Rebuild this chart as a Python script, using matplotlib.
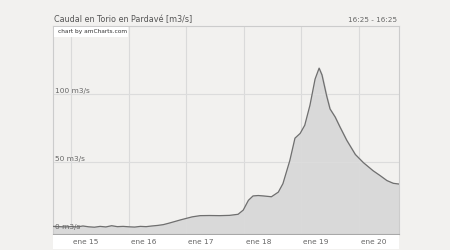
# Caudal en Torio en Pardavé - area chart, amCharts style

import matplotlib.pyplot as plt
from matplotlib.patches import Rectangle

# days counted from "ene 15" (0.0)
days = [-0.32, -0.2, -0.1, 0.0, 0.1, 0.2, 0.3, 0.4, 0.5, 0.6, 0.7, 0.8, 0.9, 1.0,
        1.1, 1.2, 1.3, 1.4, 1.5, 1.6, 1.7, 1.8, 1.9, 2.0, 2.1, 2.24, 2.4, 2.58,
        2.75, 2.9, 2.99, 3.08, 3.16, 3.25, 3.34, 3.48, 3.6, 3.68, 3.8, 3.89,
        3.98, 4.06, 4.15, 4.24, 4.31, 4.36, 4.44, 4.5, 4.59, 4.67, 4.79, 4.94,
        5.08, 5.25, 5.37, 5.49, 5.6, 5.69]
caudal = [2.6, 2.4, 2.2, 2.5, 2.2, 2.9, 2.3, 2.0, 2.6, 2.2, 3.1, 2.4, 2.6, 2.3,
          2.1, 2.6, 2.4, 2.9, 3.3, 3.9, 5.0, 6.2, 7.4, 8.5, 9.6, 10.5, 10.6, 10.5,
          10.7, 11.5, 14.6, 21.8, 25.0, 25.3, 25.0, 24.4, 27.8, 34.0, 51.0, 67.5,
          71.0, 77.0, 91.6, 111.0, 119.0, 114.0, 98.8, 89.0, 83.0, 76.0, 66.0, 55.5,
          49.5, 43.5, 40.0, 36.3, 34.3, 33.8]

tick_days = [0, 1, 2, 3, 4, 5]
tick_labels = ["ene 15", "ene 16", "ene 17", "ene 18", "ene 19", "ene 20"]
y_ticks = [0, 50, 100]

bg = "#f2f1ef"
fig = plt.figure(figsize=(4.5, 2.5), dpi=100, facecolor=bg)
ax = fig.add_axes([53 / 450, 16 / 250, 346 / 450, 208 / 250])
ax.set_facecolor(bg)

ax.fill_between(days, caudal, -3, color="#d9d9d9", zorder=1)
ax.plot(days, caudal, color="#6f6f6f", linewidth=0.9, zorder=3)

ax.set_xlim(-0.32, 5.7)
ax.set_ylim(-3, 150)

for d in tick_days:
    ax.axvline(d, color="#dadada", linewidth=0.8, zorder=2)
for v in y_ticks[1:]:
    ax.axhline(v, color="#dcdcdc", linewidth=0.8, zorder=2)

for v in y_ticks:
    ax.text(-0.29, v + 0.3, f"{v} m3/s", fontsize=5.3, color="#666666",
            ha="left", va="bottom", zorder=4)

ax.set_xticks([])
ax.set_yticks([])
for s in ax.spines.values():
    s.set_color("#cccccc")
    s.set_linewidth(0.8)
ax.spines["bottom"].set_color("#a8a8a8")

# white band with the date labels
fig.patches.append(Rectangle((53 / 450, 1 / 250), 346 / 450, 14 / 250,
                             transform=fig.transFigure, facecolor="white",
                             edgecolor="none"))
for d, lab in zip(tick_days, tick_labels):
    x = (53 + (d + 0.32) / 6.02 * 346 + 2) / 450
    fig.text(x, 8 / 250, lab, fontsize=5.3, color="#666666", ha="left", va="center")

# title row
fig.text(54 / 450, 230 / 250, "Caudal en Torio en Pardavé [m3/s]", fontsize=5.8,
         color="#555555", ha="left", va="center", fontweight="medium")
fig.text(397 / 450, 230 / 250, "16:25 - 16:25", fontsize=5.2, color="#666666",
         ha="right", va="center")

# amCharts credit box
fig.patches.append(Rectangle((54 / 450, 213 / 250), 74 / 450, 10 / 250,
                             transform=fig.transFigure, facecolor="white",
                             edgecolor="none", zorder=5))
fig.text(58 / 450, 218 / 250, "chart by amCharts.com", fontsize=4.2, color="#333333",
         ha="left", va="center", zorder=6)

fig.savefig("out.png", dpi=100, facecolor=bg)
